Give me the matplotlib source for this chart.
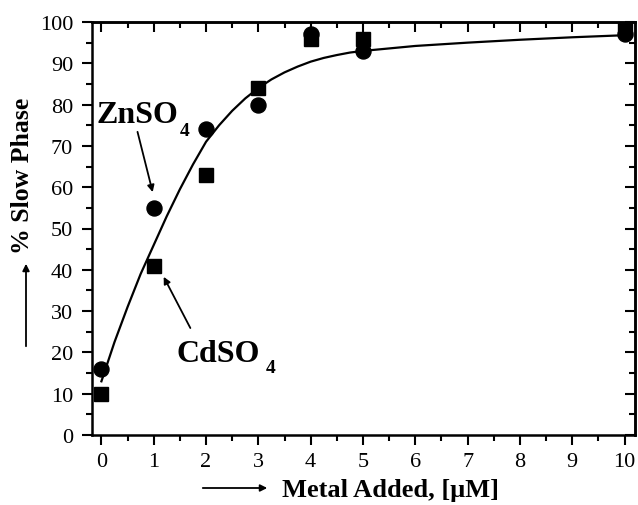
import matplotlib
matplotlib.use("Agg")
import matplotlib.pyplot as plt
from matplotlib.patches import FancyArrowPatch
from matplotlib.ticker import MultipleLocator

plt.rcParams['font.family'] = ['Liberation Serif', 'DejaVu Serif']

W, H = 638, 506

# measured points
metal = [0, 1, 2, 3, 4, 5, 10]
zn_slow = [16, 55, 74, 80, 97, 93, 97]
cd_slow = [10, 41, 63, 84, 96, 96, 98]

# fitted curve
fit_x = [0, 0.25, 0.5, 0.75, 1, 1.25, 1.5, 1.75, 2, 2.25, 2.5, 2.75, 3, 3.25, 3.5,
         3.75, 4, 4.25, 4.5, 4.75, 5, 6, 7, 8, 9, 10]
fit_y = [13, 22.5, 31, 39, 46, 53, 59.5, 65.5, 71, 75, 78.5, 81.5, 84, 86.1, 87.8,
         89.2, 90.4, 91.3, 92, 92.6, 93, 94.2, 95, 95.7, 96.3, 96.8]

x_ticks = list(range(0, 11))
y_ticks = list(range(0, 101, 10))


def px(x, y):
    # pixel position -> figure fraction
    return x / W, 1 - y / H


fig = plt.figure(figsize=(W / 100, H / 100), dpi=100)
ax = fig.add_axes([92 / W, 1 - 436 / H, (635 - 92) / W, (436 - 23) / H])

ax.plot(fit_x, fit_y, color='black', lw=1.6, zorder=2)
ax.plot(metal, zn_slow, 'o', color='black', ms=10.8, clip_on=False, zorder=3)
ax.plot(metal, cd_slow, 's', color='black', ms=10, clip_on=False, zorder=3)

ax.set_xlim(-0.18, 10.2)
ax.set_ylim(0, 100)
ax.set_xticks(x_ticks)
ax.set_yticks(y_ticks)
ax.xaxis.set_minor_locator(MultipleLocator(0.5))
ax.yaxis.set_minor_locator(MultipleLocator(5))
ax.tick_params(which='both', direction='out', width=1.5, labelsize=16)
ax.tick_params(which='major', length=7)
ax.tick_params(which='minor', length=4)
ax.tick_params(axis='y', pad=6.5)
ax.tick_params(axis='x', pad=5)
for s in ax.spines.values():
    s.set_linewidth(1.8)

# top and right axes with inward ticks
top = ax.secondary_xaxis('top')
top.set_xticks(x_ticks)
top.xaxis.set_minor_locator(MultipleLocator(0.5))
top.tick_params(which='both', direction='in', width=1.5, labeltop=False)
top.tick_params(which='major', length=7)
top.tick_params(which='minor', length=4)
right = ax.secondary_yaxis('right')
right.set_yticks(y_ticks)
right.yaxis.set_minor_locator(MultipleLocator(5))
right.tick_params(which='both', direction='in', width=1.5, labelright=False)
right.tick_params(which='major', length=7)
right.tick_params(which='minor', length=4)
for sec in (top, right):
    for s in sec.spines.values():
        s.set_linewidth(1.8)

# labels for the two salts, subscript set low as in the original
fig.text(*px(97, 123), 'ZnSO', fontsize=23, fontweight='bold', va='baseline')
fig.text(*px(180, 136), '4', fontsize=14, fontweight='bold', va='baseline')
fig.text(*px(176, 362), 'CdSO', fontsize=23, fontweight='bold', va='baseline')
fig.text(*px(266, 373), '4', fontsize=14, fontweight='bold', va='baseline')

arrow_kw = dict(arrowstyle='-|>', color='black', lw=1.3, shrinkA=0, shrinkB=0,
                mutation_scale=10)
ax.annotate('', xy=(0.98, 58.8), xytext=(0.69, 73.4), arrowprops=arrow_kw)
ax.annotate('', xy=(1.19, 38.3), xytext=(1.70, 25.9), arrowprops=arrow_kw)

# axis titles with arrows
fig.text(*px(23, 176), '% Slow Phase', rotation=90, fontsize=18.5,
         fontweight='bold', ha='center', va='center')
fig.add_artist(FancyArrowPatch(px(26, 350), px(26, 262), transform=fig.transFigure,
                               arrowstyle='-|>', mutation_scale=10, color='black', lw=1.3))
fig.text(*px(282, 491), 'Metal Added, [μM]', fontsize=19,
         fontweight='bold', ha='left', va='center')
fig.add_artist(FancyArrowPatch(px(200, 489), px(270, 489), transform=fig.transFigure,
                               arrowstyle='-|>', mutation_scale=10, color='black', lw=1.3))

fig.savefig('out.png', dpi=100)
